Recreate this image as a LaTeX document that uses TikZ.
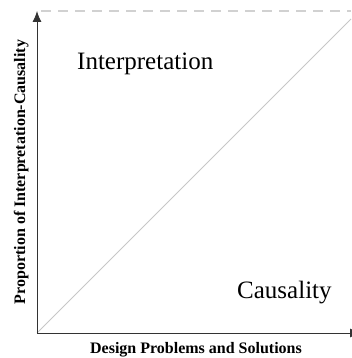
\documentclass[tikz,border=0pt]{standalone}
\usepackage{fontspec}
\setmainfont{Liberation Serif}
\usetikzlibrary{arrows.meta,positioning}
\tikzset{%
  >={Latex[length=11pt,width=9pt]},
  axis/.style     = { draw=black!80, line width=0.9pt, -> },
  guide/.style    = { draw=black!18, line width=1.6pt, dash pattern=on 10pt off 7pt },
  diag/.style     = { draw=black!22, line width=0.9pt },
  region/.style   = { inner sep=0pt, font=\fontsize{25}{30}\selectfont },
  axlabel/.style  = { inner sep=0pt, font=\fontsize{16}{19}\selectfont\bfseries }
}
\begin{document}
\begin{tikzpicture}[x=1pt,y=1pt]
	\useasboundingbox (0,0) rectangle (351,358);
	\coordinate (origin) at (37,25);
	\coordinate (ytip) at (37,347);
	\coordinate (xtip) at (361,25);
	\coordinate (topleft) at (41,347);
	\coordinate (topright) at (351,347);
	\coordinate (diagend) at (351,339);
	
	% reference lines
	\draw[guide] (topleft) -- (topright);
	\draw[diag] (origin) -- (diagend);
	
	% axes
	\draw[axis] (origin) -- (ytip);
	\draw[axis] (origin) -- (xtip);
	
	\node[region,anchor=base west] (interp) at (77,288) {Interpretation};
	\node[region,anchor=base west] (causal) at (237,59) {Causality};
	
	\node[axlabel,anchor=base] (xlabel) at (196,5) {Design Problems and Solutions};
	\node[axlabel,anchor=base,rotate=90] (ylabel) at (25,186) {Proportion of Interpretation-Causality};
\end{tikzpicture}
\end{document}
